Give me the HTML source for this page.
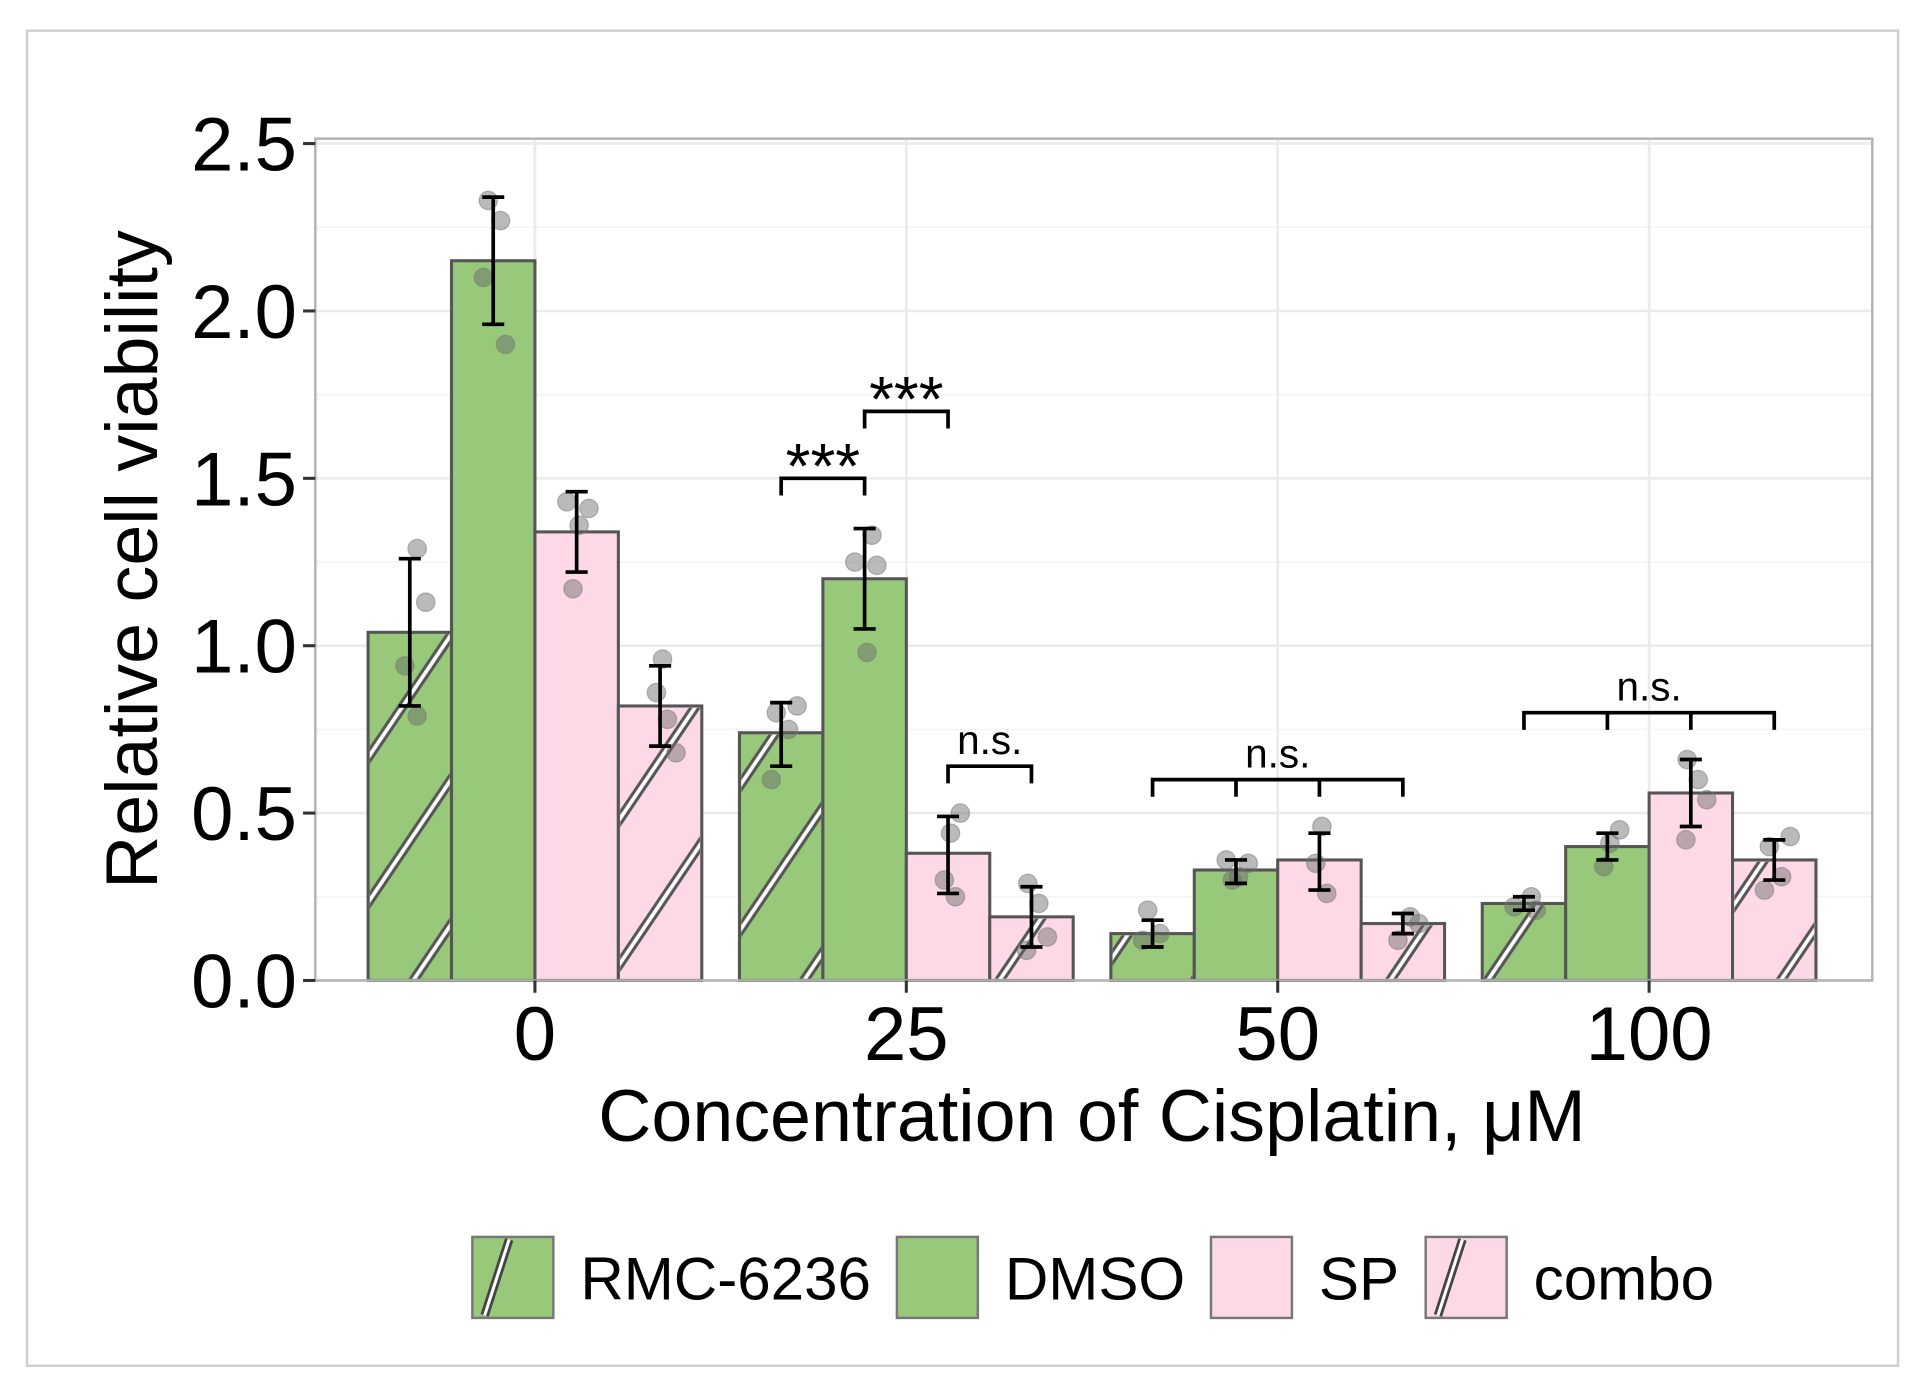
<!DOCTYPE html>
<html><head><meta charset="utf-8"><style>
html,body{margin:0;padding:0;background:#fff;}
svg{display:block;}
text{font-family:"Liberation Sans",sans-serif;fill:#000;}
</style></head><body>
<svg id="chart" width="1914" height="1394" viewBox="0 0 1560 1136" preserveAspectRatio="none" xmlns="http://www.w3.org/2000/svg">
<defs>
<pattern id="hatch" patternUnits="userSpaceOnUse" width="200" height="66" patternTransform="rotate(-56)">
<rect x="0" y="-4" width="200" height="8" fill="#555"/>
<rect x="0" y="-1.5" width="200" height="3" fill="#fff"/>
<rect x="0" y="62" width="200" height="8" fill="#555"/>
<rect x="0" y="64.5" width="200" height="3" fill="#fff"/>
</pattern>
</defs>
<rect x="22" y="25" width="1525" height="1088" fill="#fff" stroke="#d0d0d0" stroke-width="2"/>
<g id="grid"></g>
<g id="bars"></g>
<g id="points"></g>
<g id="errs"></g>
<g id="sig"></g>
<rect x="257" y="113" width="1269" height="686" fill="none" stroke="#b3b3b3" stroke-width="2"/>
<g id="axes"></g>
<text x="890" y="930" font-size="60" text-anchor="middle">Concentration of Cisplatin, μM</text>
<text x="0" y="0" font-size="60" text-anchor="middle" transform="translate(128,456) rotate(-90)">Relative cell viability</text>
<g id="legend"></g>
</svg>
<script>
const categories = ["0","25","50","100"];
const seriesNames = ["RMC-6236","DMSO","SP","combo"];
const rmcVals = [1.04,0.74,0.14,0.23];
const dmsoVals = [2.15,1.20,0.33,0.40];
const spVals = [1.34,0.38,0.36,0.56];
const comboVals = [0.82,0.19,0.17,0.36];
const rmcErr = [[0.82,1.26],[0.64,0.83],[0.10,0.18],[0.21,0.25]];
const dmsoErr = [[1.96,2.34],[1.05,1.35],[0.29,0.36],[0.36,0.44]];
const spErr = [[1.22,1.46],[0.26,0.49],[0.27,0.44],[0.46,0.66]];
const comboErr = [[0.70,0.94],[0.10,0.28],[0.14,0.20],[0.30,0.42]];
const rmcPts = [[1.29,1.13,0.94,0.79],[0.82,0.80,0.75,0.60],[0.21,0.14,0.12],[0.25,0.22,0.21]];
const dmsoPts = [[2.33,2.27,2.10,1.90],[1.33,1.25,1.24,0.98],[0.36,0.35,0.31,0.30],[0.45,0.41,0.34]];
const spPts = [[1.43,1.41,1.36,1.17],[0.50,0.44,0.30,0.25],[0.46,0.35,0.26],[0.66,0.60,0.54,0.42]];
const comboPts = [[0.96,0.86,0.78,0.68],[0.29,0.23,0.13,0.09],[0.19,0.17,0.12],[0.43,0.40,0.31,0.27]];
const yTicks = [0,0.5,1.0,1.5,2.0,2.5];
const yTickLabels = ["0.0","0.5","1.0","1.5","2.0","2.5"];
// significance: [category index, from series, to series, height value, label]
const sigBrackets = [[1,0,1,1.50,"***"],[1,1,2,1.70,"***"],[1,2,3,0.64,"n.s."],[2,0,3,0.60,"n.s."],[3,0,3,0.80,"n.s."]];

const NS="http://www.w3.org/2000/svg";
const y = v => 799 - v*272.8;
const xCat = i => 436 + i*302.7;
const BW = 68;
const xBar = (c,s) => xCat(c) - 2*BW + s*BW;
const xMid = (c,s) => xBar(c,s) + BW/2;
const vals=[rmcVals,dmsoVals,spVals,comboVals];
const errs=[rmcErr,dmsoErr,spErr,comboErr];
const pts=[rmcPts,dmsoPts,spPts,comboPts];
const fills=["#98c87a","#98c87a","#fdd9e8","#fdd9e8"];
const hatched=[true,false,false,true];
const jit=[6,13,-4,6,-8,10,2,-3];
function mk(tag,attrs,parent){const e=document.createElementNS(NS,tag);for(const k in attrs)e.setAttribute(k,attrs[k]);document.getElementById(parent).appendChild(e);return e;}

for(let i=0;i<yTicks.length;i++){
  const g=mk('line',{x1:257,x2:1526,y1:y(yTicks[i]),y2:y(yTicks[i]),stroke:'#ebebeb','stroke-width':2.2},'grid');
  
  
  if(i<yTicks.length-1){const m=mk('line',{x1:257,x2:1526,y1:y((yTicks[i]+yTicks[i+1])/2),y2:y((yTicks[i]+yTicks[i+1])/2),stroke:'#f4f4f4','stroke-width':1.2},'grid');
  
  }
}
categories.forEach((c,i)=>{const g=mk('line',{x1:xCat(i),x2:xCat(i),y1:113,y2:799,stroke:'#ebebeb','stroke-width':2.2},'grid');

});

for(let s=0;s<4;s++)for(let c=0;c<4;c++){
  const v=vals[s][c];
  const r=mk('rect',{x:xBar(c,s),y:y(v),width:BW,height:y(0)-y(v),fill:fills[s],stroke:'#555','stroke-width':2.5},'bars');
  
  
  if(hatched[s]){const h=mk('rect',{x:xBar(c,s)+1.5,y:y(v)+1.5,width:BW-3,height:y(0)-y(v)-3,fill:'url(#hatch)'},'bars');
  
  }
}
for(let s=0;s<4;s++)for(let c=0;c<4;c++)pts[s][c].forEach((p,k)=>{
  const d=mk('circle',{cx:xMid(c,s)+jit[(k+s*2+c)%8],cy:y(p),r:7.5,fill:'#666','fill-opacity':0.45,stroke:'#777','stroke-opacity':0.5},'points');
  
  
});
for(let s=0;s<4;s++)for(let c=0;c<4;c++){
  const [lo,hi]=errs[s][c];const xm=xMid(c,s);
  const d=`M${xm},${y(lo)}V${y(hi)}M${xm-9},${y(lo)}H${xm+9}M${xm-9},${y(hi)}H${xm+9}`;
  const e=mk('path',{d:d,stroke:'#000','stroke-width':3,fill:'none'},'errs');
  
  
}
sigBrackets.forEach(b=>{
  const [c,a,z,h,lab]=b;const x1=xMid(c,a),x2=xMid(c,z),yy=y(h);
  let d=`M${x1},${yy+14}V${yy}H${x2}V${yy+14}`;
  for(let s=a+1;s<z;s++)d+=`M${xMid(c,s)},${yy}V${yy+14}`;
  const p=mk('path',{d:d,stroke:'#000','stroke-width':3,fill:'none'},'sig');
  
  
  const star=lab==="***";
  const t=mk('text',{x:(x1+x2)/2,y:star?yy+8:yy-10,'font-size':star?52:33,'text-anchor':'middle'},'sig');
  t.textContent=lab;
  
  
});
yTicks.forEach((v,i)=>{
  const l=mk('line',{x1:247,x2:257,y1:y(v),y2:y(v),stroke:'#333','stroke-width':2.5},'axes');
  
  
  const t=mk('text',{x:242,y:y(v)+22,'font-size':62,'text-anchor':'end'},'axes');
  t.textContent=yTickLabels[i];
  
  
});
categories.forEach((c,i)=>{
  const l=mk('line',{x1:xCat(i),x2:xCat(i),y1:799,y2:809,stroke:'#333','stroke-width':2.5},'axes');
  
  
  const t=mk('text',{x:xCat(i),y:864,'font-size':62,'text-anchor':'middle'},'axes');
  t.textContent=c;
  
  
});
const legX=[385,731,987,1162];
seriesNames.forEach((n,s)=>{
  const r=mk('rect',{x:legX[s],y:1008,width:66,height:66,fill:fills[s],stroke:'#777','stroke-width':2},'legend');
  
  
  if(hatched[s]){
    const a=mk('line',{x1:legX[s]+10,y1:1072,x2:legX[s]+30,y2:1010,stroke:'#444','stroke-width':7},'legend');
    
    
    const b=mk('line',{x1:legX[s]+10,y1:1072,x2:legX[s]+30,y2:1010,stroke:'#fff','stroke-width':2.5},'legend');
    
    
  }
  const t=mk('text',{x:legX[s]+88,y:1059,'font-size':49},'legend');
  t.textContent=n;
  
  
});
</script>
</body></html>
